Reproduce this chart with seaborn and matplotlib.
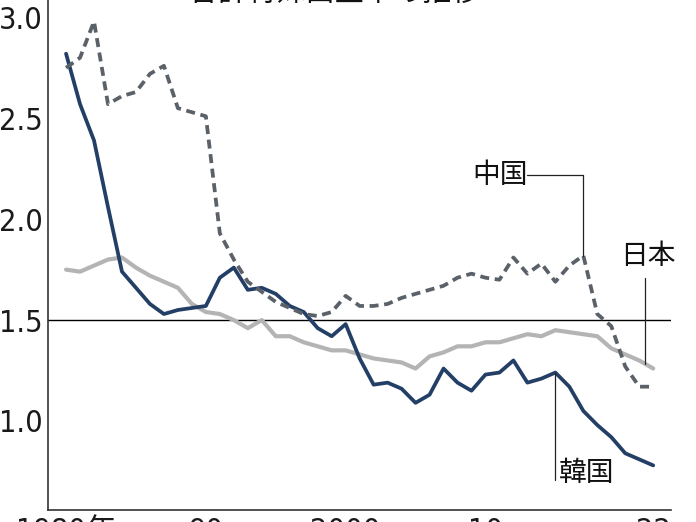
import matplotlib
matplotlib.use("Agg")
import numpy as np
import pandas as pd
import matplotlib.pyplot as plt
import seaborn as sns
from matplotlib import font_manager as fm

# ---------------- data ----------------
years = list(range(1980, 2023))
japan = [1.75, 1.74, 1.77, 1.80, 1.81, 1.76, 1.72, 1.69, 1.66, 1.58,
         1.54, 1.53, 1.50, 1.46, 1.50, 1.42, 1.42, 1.39, 1.37, 1.35,
         1.35, 1.33, 1.31, 1.30, 1.29, 1.26, 1.32, 1.34, 1.37, 1.37,
         1.39, 1.39, 1.41, 1.43, 1.42, 1.45, 1.44, 1.43, 1.42, 1.36,
         1.33, 1.30, 1.26]
korea = [2.82, 2.57, 2.39, 2.06, 1.74, 1.66, 1.58, 1.53, 1.55, 1.56,
         1.57, 1.71, 1.76, 1.65, 1.66, 1.63, 1.57, 1.54, 1.46, 1.42,
         1.48, 1.31, 1.18, 1.19, 1.16, 1.09, 1.13, 1.26, 1.19, 1.15,
         1.23, 1.24, 1.30, 1.19, 1.21, 1.24, 1.17, 1.05, 0.98, 0.92,
         0.84, 0.81, 0.78]
china = [2.75, 2.80, 2.98, 2.57, 2.61, 2.63, 2.72, 2.76, 2.55, 2.53,
         2.51, 1.93, 1.80, 1.69, 1.64, 1.59, 1.56, 1.53, 1.52, 1.54,
         1.62, 1.57, 1.57, 1.58, 1.61, 1.63, 1.65, 1.67, 1.71, 1.73,
         1.71, 1.70, 1.81, 1.73, 1.78, 1.69, 1.77, 1.82, 1.53, 1.47,
         1.27, 1.17, 1.17]
x_ticks = [1980, 1990, 2000, 2010, 2022]
x_tick_labels = ["1980年", "90", "2000", "10", "22"]
y_ticks = [1.0, 1.5, 2.0, 2.5, 3.0]
y_tick_labels = ["1.0", "1.5", "2.0", "2.5", "3.0"]
title = "合計特殊出生率の推移"
label_japan, label_korea, label_china = "日本", "韓国", "中国"

# ---------------- style ----------------
sns.set_theme(style="white")
plt.rcParams["font.family"] = ["Noto Sans CJK JP", "DejaVu Sans"]

names = {f.name for f in fm.fontManager.ttflist}
if "Liberation Sans Narrow" in names:
    num_fp = fm.FontProperties(family=["Liberation Sans Narrow", "Noto Sans CJK JP"], size=24)
else:
    has_cond = any(f.name == "DejaVu Sans" and f.stretch == "condensed" for f in fm.fontManager.ttflist)
    if has_cond:
        num_fp = fm.FontProperties(family=["DejaVu Sans", "Noto Sans CJK JP"], stretch="condensed", size=22)
    else:
        num_fp = fm.FontProperties(family=["Noto Sans CJK JP", "DejaVu Sans"], size=20)

fig = plt.figure(figsize=(6.96, 5.22), dpi=100)
ax = fig.add_axes([48.3 / 696, 12 / 522, (670.7 - 48.3) / 696, 510 / 522])

df = pd.DataFrame({"year": years, "japan": japan, "korea": korea, "china": china})

sns.lineplot(data=df, x="year", y="japan", ax=ax, color="#b4b4b4", lw=3.0,
             legend=False, zorder=3)
sns.lineplot(data=df, x="year", y="korea", ax=ax, color="#233f66", lw=2.7,
             legend=False, zorder=4)
sns.lineplot(data=df, x="year", y="china", ax=ax, color="#5b6169", lw=2.7,
             linestyle=(0, (2.4, 1.5)), dash_capstyle="butt",
             legend=False, zorder=5)

ax.axhline(1.5, color="black", lw=1.0, zorder=2)

ax.set_xlim(1978.73, 2023.25)
ax.set_ylim(0.559, 3.086)
ax.set_xlabel("")
ax.set_ylabel("")
ax.set_xticks(x_ticks)
ax.set_xticklabels(x_tick_labels)
ax.set_yticks(y_ticks)
ax.set_yticklabels(y_tick_labels)
for lbl in ax.get_xticklabels() + ax.get_yticklabels():
    lbl.set_fontproperties(num_fp)
    lbl.set_color("#1a1a1a")
ax.tick_params(axis="both", direction="in", length=4.5, width=1.0,
               color="#333333")
ax.tick_params(axis="x", pad=5)
ax.tick_params(axis="y", pad=4)
for s in ["top", "right"]:
    ax.spines[s].set_visible(False)
for s in ["left", "bottom"]:
    ax.spines[s].set_color("#333333")
    ax.spines[s].set_linewidth(1.2)

# ---------------- labels with leader lines ----------------
lab_kw = dict(fontsize=20, color="#111111", family=["Noto Sans CJK JP", "DejaVu Sans"])
lead_kw = dict(color="#222222", lw=0.9, zorder=6)

# China
cy = china[years.index(2017)]
ax.text(2011.05, 2.22, label_china, ha="center", va="center", **lab_kw)
ax.plot([2013.0, 2017, 2017], [2.22, 2.22, cy], **lead_kw)

# Japan
jx = 2021.4
jy = float(np.interp(jx, years, japan))
ax.text(2021.6, 1.82, label_japan, ha="center", va="center", **lab_kw)
ax.plot([jx, jx], [1.71, jy], **lead_kw)

# Korea
ky = korea[years.index(2015)]
ax.plot([2015, 2015], [ky, 0.71], **lead_kw)
ax.text(2015.25, 0.742, label_korea, ha="left", va="center", **lab_kw)

# partially visible title at the top edge
fig.text(335 / 696, 1 - 2 / 522, title, ha="center", va="baseline",
         fontsize=21, color="#111111",
         family=["Noto Sans CJK JP", "DejaVu Sans"])

fig.savefig("out.png", dpi=100)
